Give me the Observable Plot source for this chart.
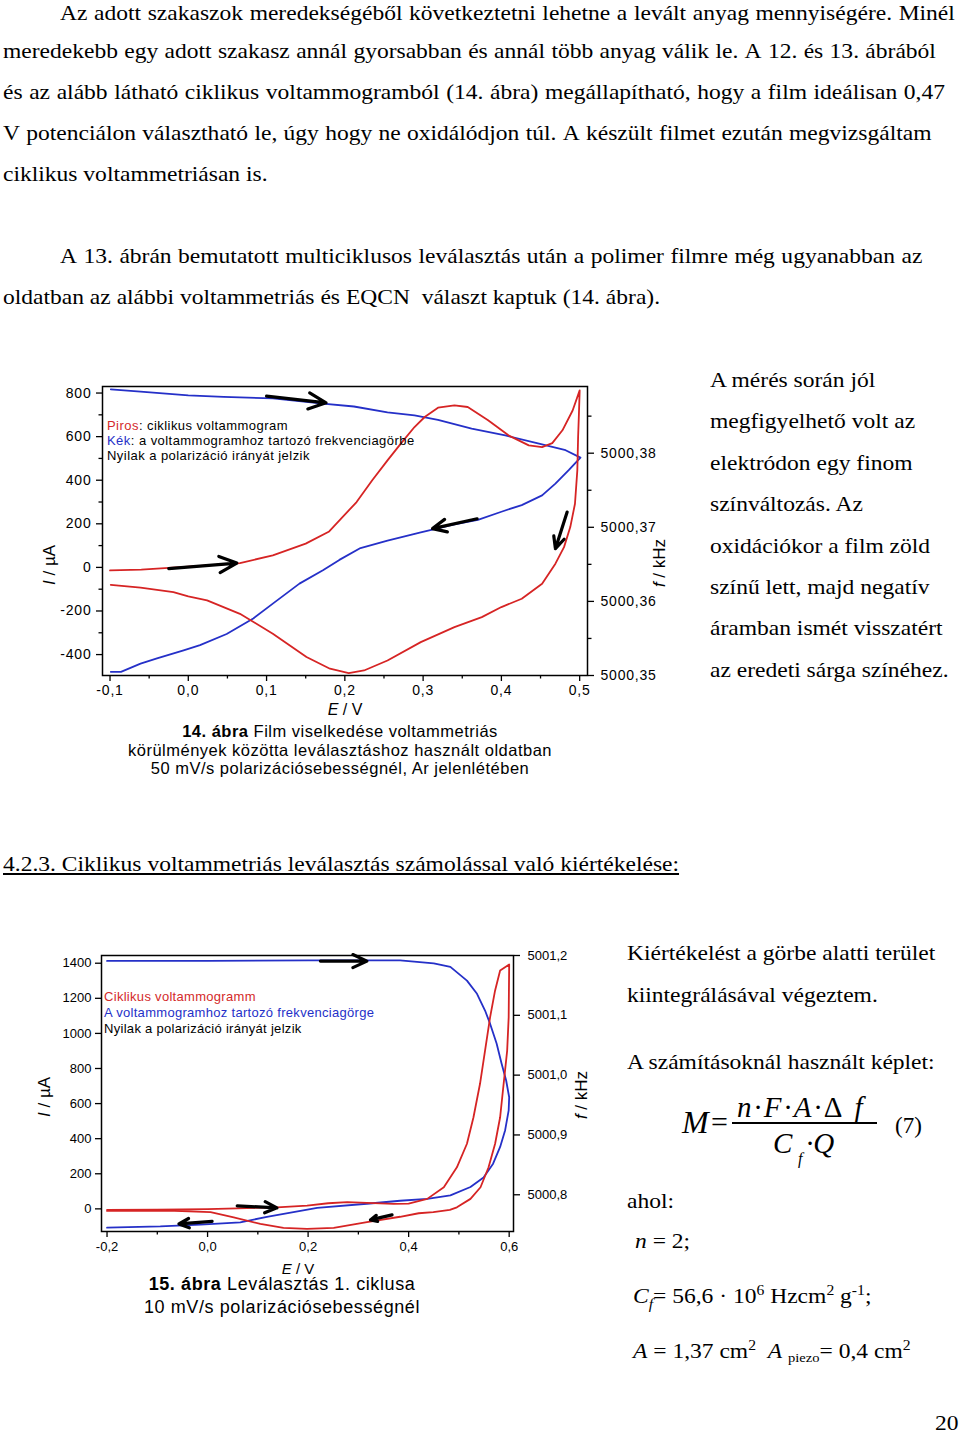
<!DOCTYPE html>
<html lang="hu">
<head>
<meta charset="utf-8">
<title>14. és 15. ábra</title>
<script src="https://cdn.jsdelivr.net/npm/d3@7"></script>
<script src="https://cdn.jsdelivr.net/npm/@observablehq/plot@0.6"></script>
<style>
html,body{margin:0;padding:0;background:#fff;}
#page{position:relative;width:960px;height:1436px;overflow:hidden;background:#fff;color:#000;font-family:"Liberation Serif","Times New Roman",serif;}
.t{position:absolute;font-size:21px;line-height:24px;white-space:nowrap;transform:scaleX(1.12);transform-origin:0 0;}
.j{display:flex;justify-content:space-between;}
.sans{position:absolute;font-family:"Liberation Sans",Arial,sans-serif;white-space:nowrap;}
.chart{position:absolute;left:0;}
.chart svg{position:absolute;left:0;top:0;}
.rot{transform:translate(-50%,-50%) rotate(-90deg);}
.ctr{transform:translate(-50%,0);text-align:center;}
.f{position:absolute;white-space:nowrap;font-family:"Liberation Serif","Times New Roman",serif;}
</style>
</head>
<body>
<div id="page">
  <div class="t j" style="left:60px;top:1px;width:799px">Az adott szakaszok meredekségéből következtetni lehetne a levált anyag mennyiségére. Minél</div>
  <div class="t j" style="left:3px;top:39px;width:833px">meredekebb egy adott szakasz annál gyorsabban és annál több anyag válik le. A 12. és 13. ábrából</div>
  <div class="t j" style="left:3px;top:80px;width:841px">és az alább látható ciklikus voltammogramból (14. ábra) megállapítható, hogy a film ideálisan 0,47</div>
  <div class="t j" style="left:3px;top:121px;width:829px">V potenciálon választható le, úgy hogy ne oxidálódjon túl. A készült filmet ezután megvizsgáltam</div>
  <div class="t" style="left:3px;top:162px">ciklikus voltammetriásan is.</div>
  <div class="t j" style="left:60px;top:244px;width:770px">A 13. ábrán bemutatott multiciklusos leválasztás után a polimer filmre még ugyanabban az</div>
  <div class="t" style="left:3px;top:285px">oldatban az alábbi voltammetriás és EQCN&nbsp; választ kaptuk (14. ábra).</div>

  <div class="t" style="left:710px;top:368px">A mérés során jól</div>
  <div class="t" style="left:710px;top:409px">megfigyelhető volt az</div>
  <div class="t" style="left:710px;top:451px">elektródon egy finom</div>
  <div class="t" style="left:710px;top:492px">színváltozás. Az</div>
  <div class="t" style="left:710px;top:534px">oxidációkor a film zöld</div>
  <div class="t" style="left:710px;top:575px">színű lett, majd negatív</div>
  <div class="t" style="left:710px;top:616px">áramban ismét visszatért</div>
  <div class="t" style="left:710px;top:658px">az eredeti sárga színéhez.</div>

  <div class="t" style="left:3px;top:852px;text-decoration:underline;">4.2.3. Ciklikus voltammetriás leválasztás számolással való kiértékelése:</div>

  <div class="t" style="left:627px;top:941px">Kiértékelést a görbe alatti terület</div>
  <div class="t" style="left:627px;top:983px">kiintegrálásával végeztem.</div>
  <div class="t" style="left:627px;top:1050px">A számításoknál használt képlet:</div>

  <div class="f" style="left:682px;top:1106px;font-size:32px;line-height:32px;font-style:italic;">M</div>
  <div class="f" style="left:711px;top:1107px;font-size:30px;line-height:30px;">=</div>
  <div class="f" style="left:737px;top:1093px;font-size:29px;line-height:29px;font-style:italic;letter-spacing:2.5px;">n·F·A·<span style="font-style:normal">Δ</span> f</div>
  <div style="position:absolute;left:732px;top:1122px;width:145px;height:1.6px;background:#000;"></div>
  <div class="f" style="left:773px;top:1129px;font-size:29px;line-height:29px;font-style:italic;">C</div>
  <div class="f" style="left:798px;top:1151px;font-size:16px;line-height:16px;font-style:italic;">f</div>
  <div class="f" style="left:806px;top:1129px;font-size:29px;line-height:29px;font-style:italic;">·Q</div>
  <div class="f" style="left:895px;top:1114px;font-size:23px;line-height:23px;">(7)</div>

  <div class="t" style="left:627px;top:1189px">ahol:</div>
  <div class="t" style="left:635px;top:1229px"><i>n</i> = 2;</div>
  <div class="t" style="left:633px;top:1279px"><i>C<sub style="font-size:14px;vertical-align:-6px">f</sub></i>= 56,6 · 10<sup style="font-size:14px;vertical-align:8px">6</sup> Hzcm<sup style="font-size:14px;vertical-align:8px">2</sup> g<sup style="font-size:14px;vertical-align:8px">-1</sup>;</div>
  <div class="t" style="left:633px;top:1334px"><i>A</i> = 1,37 cm<sup style="font-size:14px;vertical-align:8px">2</sup>&nbsp;&nbsp;<i>A</i> <sub style="font-size:13px;vertical-align:-4px">piezo</sub>= 0,4 cm<sup style="font-size:14px;vertical-align:8px">2</sup></div>

  <div class="t" style="left:935px;top:1411px">20</div>

  <div id="chart1" class="chart" style="top:370px;width:680px;height:350px;"></div>
  <div id="chart2" class="chart" style="top:940px;width:600px;height:330px;"></div>

  <div class="sans" style="left:107px;top:418px;font-size:13px;line-height:15px;letter-spacing:0.45px;"><span style="color:#d42a2a">Piros</span>: ciklikus voltammogram<br><span style="color:#2530c8">Kék</span>: a voltammogramhoz tartozó frekvenciagörbe<br>Nyilak a polarizáció irányát jelzik</div>
  <div class="sans rot" style="left:50px;top:565px;font-size:17px;"><i>I</i> / µA</div>
  <div class="sans rot" style="left:660px;top:563px;font-size:17px;"><i>f</i> / kHz</div>
  <div class="sans" style="left:345px;top:710px;font-size:16px;transform:translate(-50%,-50%);"><i>E</i> / V</div>
  <div class="sans ctr" style="left:340px;top:722px;font-size:16.5px;line-height:18.5px;letter-spacing:0.5px;"><b>14. ábra</b> Film viselkedése voltammetriás<br>körülmények közötta leválasztáshoz használt oldatban<br>50 mV/s polarizációsebességnél, Ar jelenlétében</div>

  <div class="sans" style="left:104px;top:989px;font-size:13px;line-height:16px;letter-spacing:0.3px;"><span style="color:#d42a2a">Ciklikus voltammogramm</span><br><span style="color:#2530c8">A voltammogramhoz tartozó frekvenciagörge</span><br>Nyilak a polarizáció irányát jelzik</div>
  <div class="sans rot" style="left:45px;top:1097px;font-size:17px;"><i>I</i> / µA</div>
  <div class="sans rot" style="left:582px;top:1095px;font-size:17px;"><i>f</i> / kHz</div>
  <div class="sans" style="left:298px;top:1268px;font-size:15px;transform:translate(-50%,-50%);"><i>E</i> / V</div>
  <div class="sans ctr" style="left:282px;top:1273px;font-size:18px;line-height:23px;letter-spacing:0.6px;"><b>15. ábra</b> Leválasztás 1. ciklusa<br>10 mV/s polarizációsebességnél</div>
</div>

<script>
// ===== 14. ábra: ciklikus voltammogram (E / V, I / µA) =====
const cv1E = [-0.100,-0.060,-0.025,0.020,0.066,0.108,0.150,0.180,0.215,0.235,0.2545,0.272,0.289,0.302,0.319,0.340,0.357,0.383,0.409,0.435,0.452,0.465,0.478,0.491,0.500,
  0.499,0.498,0.497,0.494,0.488,0.480,0.469,0.452,0.426,0.400,0.375,0.340,0.297,0.2545,0.2245,0.205,0.181,0.151,0.108,0.066,0.024,0.000,-0.019,-0.061,-0.099];
const cv1I = [-14,-10,-2,8,20,55,109,165,300,400,491,570,644,690,733,743,736,675,606,560,552,570,629,720,812,
  700,598,445,292,185,93,17,-75,-144,-182,-228,-274,-343,-427,-473,-485,-465,-411,-304,-213,-151,-133,-113,-93,-80];
// frekvenciagörbe (E / V, f / kHz)
const fq1E = [-0.099,-0.061,0.000,0.045,0.108,0.172,0.2116,0.2545,0.289,0.319,0.362,0.405,0.448,0.482,0.501,
  0.486,0.469,0.452,0.426,0.400,0.370,0.340,0.297,0.2545,0.220,0.193,0.172,0.142,0.108,0.083,0.049,0.015,-0.006,-0.040,-0.061,-0.086,-0.099];
const fq1F = [5000.3886,5000.3883,5000.3878,5000.3876,5000.3874,5000.3867,5000.3863,5000.3855,5000.3851,5000.3845,5000.3833,5000.3824,5000.3813,5000.3804,5000.3794,
  5000.3777,5000.3759,5000.3743,5000.3730,5000.3721,5000.3710,5000.3704,5000.3693,5000.3682,5000.3672,5000.3656,5000.3642,5000.3624,5000.3597,5000.3577,5000.3556,5000.3541,5000.3534,5000.3523,5000.3516,5000.3505,5000.3505];
// polarizáció irányát jelző nyilak (E, I)
const ar1X1 = [0.100,-0.025,0.369,0.484];
const ar1Y1 = [786,-6,223,254];
const ar1X2 = [0.176,0.062,0.312,0.469];
const ar1Y2 = [755,20,178,86];
const ticks1X = [-0.1,0,0.1,0.2,0.3,0.4,0.5];
const minor1X = [-0.05,0.05,0.15,0.25,0.35,0.45];
const ticks1Y = [-400,-200,0,200,400,600,800];
const minor1Y = [-300,-100,100,300,500,700];
const ticks1F = [5000.35,5000.36,5000.37,5000.38];
const minor1F = [5000.355,5000.365,5000.375,5000.385];

// ===== 15. ábra: leválasztás 1. ciklusa =====
const cv2E = [-0.200,-0.100,0.000,0.059,0.138,0.198,0.240,0.278,0.317,0.370,0.400,0.437,0.470,0.496,0.516,0.529,0.542,0.552,0.562,0.572,0.582,0.600,
  0.599,0.596,0.589,0.582,0.572,0.559,0.543,0.523,0.496,0.482,0.449,0.420,0.383,0.317,0.251,0.198,0.151,0.105,0.052,0.006,-0.080,-0.200];
const cv2I = [-6,-5,-2,3,8,19,32,38,34,28,30,57,123,237,371,522,713,902,1091,1245,1359,1393,
  1092,902,713,522,371,237,123,57,9,-6,-19,-25,-45,-75,-108,-114,-108,-86,-48,-19,-10,-12];
const fq2E = [-0.200,0.000,0.200,0.383,0.450,0.483,0.516,0.536,0.552,0.562,0.575,0.585,0.594,0.600,
  0.599,0.592,0.582,0.568,0.549,0.523,0.483,0.437,0.383,0.317,0.218,0.118,0.065,-0.014,-0.094,-0.200];
const fq2F = [5001.191,5001.191,5001.192,5001.192,5001.187,5001.181,5001.158,5001.136,5001.108,5001.086,5001.053,5001.019,5000.991,5000.963,
  5000.941,5000.908,5000.880,5000.852,5000.829,5000.813,5000.799,5000.793,5000.790,5000.785,5000.778,5000.763,5000.754,5000.750,5000.747,5000.745];
const ar2X1 = [0.2245,0.059,0.009,0.367];
const ar2Y1 = [1412,17,-71,-34];
const ar2X2 = [0.317,0.138,-0.057,0.324];
const ar2Y2 = [1412,6,-86,-63];
const ticks2X = [-0.2,0,0.2,0.4,0.6];
const minor2X = [-0.1,0.1,0.3,0.5];
const ticks2Y = [0,200,400,600,800,1000,1200,1400];
const ticks2F = [5000.8,5000.9,5001.0,5001.1,5001.2];

// ===== helpers =====
const SANS = '"Liberation Sans", Arial, sans-serif';
const RED = "#d62424", BLUE = "#2530c8";
const comma = (d, n) => d.toFixed(n).replace(".", ",");
const rows = (xs, ys) => xs.map((x, i) => ({x, y: ys[i]}));
const arrows = (a, b, c, d) => a.map((v, i) => ({x1: v, y1: b[i], x2: c[i], y2: d[i]}));

// justify body lines
document.querySelectorAll(".j").forEach(el => {
  const words = el.textContent.trim().split(/\s+/);
  el.textContent = "";
  words.forEach(w => { const s = document.createElement("span"); s.textContent = w; el.appendChild(s); });
});

function dualChart(host, dims, fontSize, spacing, xDom, yDom, fDom, cvE, cvI, fqE, fqF, arr, ax) {
  const style = {fontFamily: SANS, fontSize: fontSize + "px", letterSpacing: spacing, background: "transparent", color: "#000", overflow: "visible"};
  const bottom = Plot.plot({
    ...dims, style,
    x: {domain: xDom, axis: null, label: null},
    y: {domain: fDom, label: null},
    marks: [
      Plot.line(rows(fqE, fqF), {x: "x", y: "y", stroke: BLUE, strokeWidth: 1.8}),
      Plot.axisY(ax.fT, {anchor: "right", tickSize: 6, tickPadding: ax.fPad, tickFormat: d => comma(d, ax.fDec), strokeWidth: 1.3, label: null}),
      ...(ax.fM ? [Plot.axisY(ax.fM, {anchor: "right", tickSize: 3.5, tickFormat: () => "", strokeWidth: 1.3, label: null})] : [])
    ]
  });
  const top = Plot.plot({
    ...dims, style,
    x: {domain: xDom, label: null},
    y: {domain: yDom, label: null},
    marks: [
      Plot.line(rows(cvE, cvI), {x: "x", y: "y", stroke: RED, strokeWidth: 1.8}),
      Plot.arrow(arr, {x1: "x1", y1: "y1", x2: "x2", y2: "y2", stroke: "#000", strokeWidth: 3.2, headLength: 9, headAngle: 50}),
      Plot.frame({stroke: "#000", strokeWidth: 1.5}),
      Plot.axisX(ax.xT, {tickSize: 6, tickPadding: 4, tickFormat: d => comma(d, 1), strokeWidth: 1.3, label: null}),
      Plot.axisX(ax.xM, {tickSize: 3.5, tickFormat: () => "", strokeWidth: 1.3, label: null}),
      Plot.axisY(ax.yT, {tickSize: 6, tickPadding: ax.yPad, tickFormat: d => String(d), strokeWidth: 1.3, label: null}),
      ...(ax.yM ? [Plot.axisY(ax.yM, {tickSize: 3.5, tickFormat: () => "", strokeWidth: 1.3, label: null})] : [])
    ]
  });
  host.appendChild(bottom);
  host.appendChild(top);
}

dualChart(document.getElementById("chart1"),
  {width: 680, height: 350, marginLeft: 102, marginRight: 93, marginTop: 16, marginBottom: 45}, 14, "0.8px",
  [-0.1096, 0.510], [-496, 830], [5000.35, 5000.389],
  cv1E, cv1I, fq1E, fq1F, arrows(ar1X1, ar1Y1, ar1X2, ar1Y2),
  {xT: ticks1X, xM: minor1X, yT: ticks1Y, yM: minor1Y, fT: ticks1F, fM: minor1F, fDec: 2, fPad: 7, yPad: 5});

dualChart(document.getElementById("chart2"),
  {width: 600, height: 330, marginLeft: 101, marginRight: 87, marginTop: 15, marginBottom: 39}, 13, "0px",
  [-0.211, 0.6086], [-129, 1444], [5000.7386, 5001.2],
  cv2E, cv2I, fq2E, fq2F, arrows(ar2X1, ar2Y1, ar2X2, ar2Y2),
  {xT: ticks2X, xM: minor2X, yT: ticks2Y, yM: null, fT: ticks2F, fM: null, fDec: 1, fPad: 8, yPad: 4});
</script>
</body>
</html>
